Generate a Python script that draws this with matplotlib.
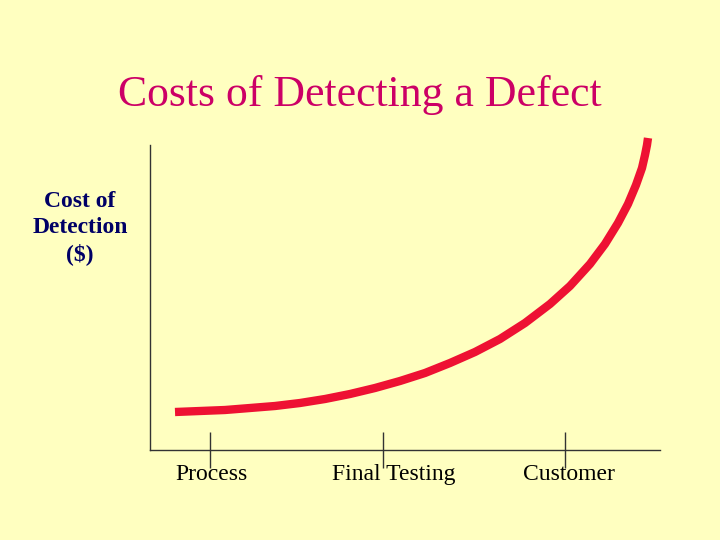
import matplotlib
matplotlib.use("Agg")
import matplotlib.pyplot as plt

categories = ["Process", "Final Testing", "Customer"]
cat_pos = [210, 383, 565]
label_pos = [211, 394, 569]
curve_x = [175, 200, 225, 250, 275, 300, 325, 350, 375, 400, 425, 450, 475, 500, 525,
           550, 570, 590, 605, 618, 628, 636, 642, 645, 647, 648]
curve_y = [412, 411, 410, 408, 406, 403, 399, 394, 388, 381, 373, 363, 352, 339, 323,
           304, 286, 264, 244, 223, 204, 185, 168, 155, 145, 138]

bg = "#FFFFC0"
fig = plt.figure(figsize=(7.2, 5.4), dpi=100, facecolor=bg)
ax = fig.add_axes([150/720, 90/540, 510/720, 305/540])
ax.set_facecolor(bg)
ax.set_xlim(150, 660)
ax.set_ylim(450, 145)
for s in ["top", "right"]:
    ax.spines[s].set_visible(False)
for s in ["left", "bottom"]:
    ax.spines[s].set_color("#333333")
    ax.spines[s].set_linewidth(1)
ax.set_xticks([]); ax.set_yticks([])

ax.plot(curve_x, curve_y, color="#EE1133", lw=6, solid_capstyle="butt",
        solid_joinstyle="round", clip_on=False)
ax.vlines(cat_pos, 432, 468, color="#333333", lw=1, clip_on=False)
for p, c in zip(label_pos, categories):
    ax.text(p, 475, c, ha="center", va="center", fontsize=17,
            family="Liberation Serif", clip_on=False)

fig.text(360/720, 1 - 95/540, "Costs of Detecting a Defect", ha="center", va="center",
         fontsize=31.5, color="#CC0066", family="Liberation Serif")
fig.text(80/720, 1 - 228/540, "Cost of\nDetection\n($)", ha="center", va="center",
         fontsize=17, color="#000066", family="Liberation Serif", weight="bold",
         linespacing=1.3)

fig.savefig("out.png", dpi=100, facecolor=bg)
